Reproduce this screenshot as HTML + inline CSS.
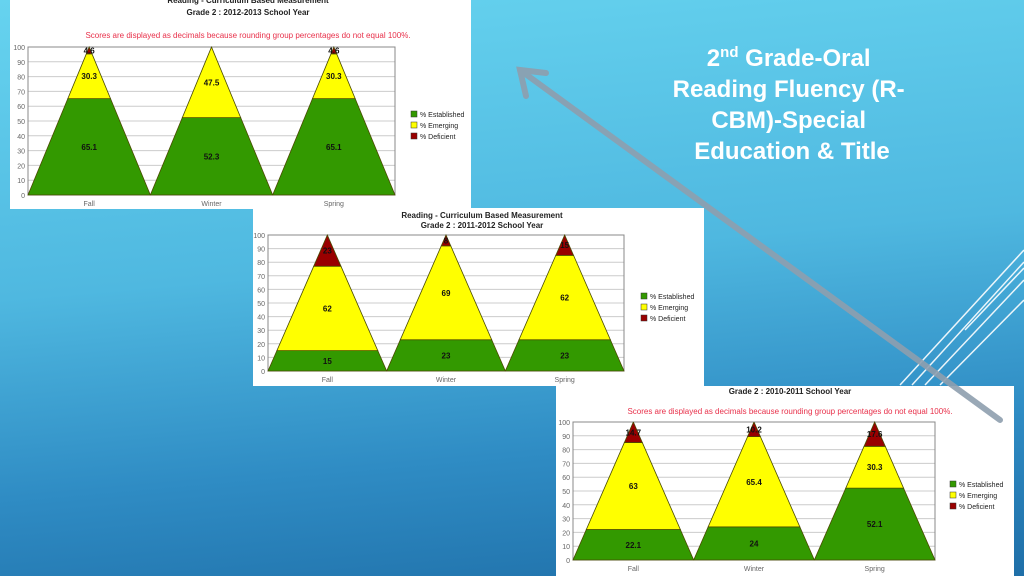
<!DOCTYPE html>
<html><head><meta charset="utf-8"><style>
html,body{margin:0;padding:0;width:1024px;height:576px;overflow:hidden}
body{background:linear-gradient(175deg,#66d3ef 0%,#4fb8e0 45%,#2f8cc4 75%,#1f6fa8 100%);position:relative;font-family:"Liberation Sans",sans-serif}
svg{position:absolute;left:0;top:0}
</style></head><body>
<svg id="s" width="1024" height="576" xmlns="http://www.w3.org/2000/svg">
<g stroke="#ffffff" stroke-width="1.5" opacity="0.9">
<line x1="900" y1="385" x2="1024" y2="250"/><line x1="912" y1="385" x2="1024" y2="262"/><line x1="925" y1="385" x2="1024" y2="280"/><line x1="940" y1="385" x2="1024" y2="300"/><line x1="965" y1="330" x2="1024" y2="268"/>
</g>
<text fill="#fff" font-weight="bold" font-size="24" text-anchor="middle" font-family="Liberation Sans,sans-serif">
<tspan x="792" y="66">2<tspan font-size="15" dy="-9">nd</tspan><tspan dy="9"> Grade-Oral</tspan></tspan>
<tspan x="792" y="97">Reading Fluency (R-</tspan>
<tspan x="792" y="128">CBM)-Special</tspan>
<tspan x="792" y="159">Education &amp; Title</tspan>
</text>
</svg>
<script>
const cats=["Fall","Winter","Spring"];
const est1=[65.1,52.3,65.1], emg1=[30.3,47.5,30.3], def1=[4.6,0.2,4.6];
const est2=[15,23,23], emg2=[62,69,62], def2=[23,8,15];
const est3=[22.1,24,52.1], emg3=[63,65.4,30.3], def3=[14.7,10.2,17.6];
const yTicks=[0,10,20,30,40,50,60,70,80,90,100];
const NS="http://www.w3.org/2000/svg", svg=document.getElementById('s');
function mk(t,a,p){const e=document.createElementNS(NS,t);for(const k in a)e.setAttribute(k,a[k]);(p||svg).appendChild(e);return e;}
const COL=["#339900","#ffff00","#990000"];
function chart(c,name,est,emg,def){
 const g=mk('g',{});
 
 
 const bg=mk('rect',{x:c.bx,y:c.by,width:c.bw,height:c.bh,fill:'#fff'},g);
 
 
 const Y=v=>c.y0-(c.y0-c.y1)*v/100;
 const cw=(c.x1-c.x0)/cats.length;
 yTicks.forEach(t=>{
  const l=mk('line',{x1:c.x0,x2:c.x1,y1:Y(t),y2:Y(t),stroke:'#cccccc','stroke-width':1},g);
  
  
  const tx=mk('text',{x:c.x0-3,y:Y(t)+3,'font-size':7,fill:'#666','text-anchor':'end'},g);
  tx.textContent=t;
  
  
 });
 mk('rect',{x:c.x0,y:c.y1,width:c.x1-c.x0,height:c.y0-c.y1,fill:'none',stroke:'#888'},g);
 cats.forEach((cat,i)=>{
  const L=c.x0+i*cw, cx=L+cw/2, hb=cw/2;
  const vals=[est[i],emg[i],def[i]];let acc=0;
  vals.forEach((v,j)=>{
   const a=acc,b=Math.min(100,acc+v);acc=b;
   const wa=hb*(1-a/100), wb=hb*(1-b/100);
   const p=mk('polygon',{points:`${cx-wa},${Y(a)} ${cx+wa},${Y(a)} ${cx+wb},${Y(b)} ${cx-wb},${Y(b)}`,fill:COL[j],stroke:'#4a4a00','stroke-width':0.8},g);
   
   
   if(v>=1){
    const lt=mk('text',{x:cx,y:Y((a+b)/2)+3,'font-size':8,'font-weight':'bold',fill:'#111','text-anchor':'middle'},g);
    lt.textContent=v;
    
    
   }
  });
  const ct=mk('text',{x:cx,y:c.y0+11,'font-size':7,fill:'#666','text-anchor':'middle'},g);
  ct.textContent=cat;
  
  
 });
 ["% Established","% Emerging","% Deficient"].forEach((s,j)=>{
  const r=mk('rect',{x:c.lx,y:c.ly+j*11-6,width:6,height:6,fill:COL[j],stroke:'#333','stroke-width':0.5},g);
  
  
  const t=mk('text',{x:c.lx+9,y:c.ly+j*11,'font-size':7,fill:'#222'},g);
  t.textContent=s;
  
  
 });
 c.titles.forEach(([s,y])=>{const t=mk('text',{x:c.tx,y:y,'font-size':8,'font-weight':'bold',fill:'#222','text-anchor':'middle'},g);t.textContent=s;
  
  });
 if(c.note){const t=mk('text',{x:c.tx,y:c.note,'font-size':8,fill:'#e8304a','text-anchor':'middle'},g);t.textContent="Scores are displayed as decimals because rounding group percentages do not equal 100%.";
  
  }
}
chart({bx:10,by:0,bw:461,bh:209,x0:28,x1:395,y0:195,y1:47,lx:411,ly:117,tx:248,titles:[["Reading - Curriculum Based Measurement",3],["Grade 2 : 2012-2013 School Year",15]],note:38},'chart-2012-2013',est1,emg1,def1);
chart({bx:253,by:208,bw:451,bh:178,x0:268,x1:624,y0:371,y1:235,lx:641,ly:299,tx:482,titles:[["Reading - Curriculum Based Measurement",218],["Grade 2 : 2011-2012 School Year",228]]},'chart-2011-2012',est2,emg2,def2);
chart({bx:556,by:386,bw:458,bh:190,x0:573,x1:935,y0:560,y1:422,lx:950,ly:487,tx:790,titles:[["Grade 2 : 2010-2011 School Year",394]],note:414},'chart-2010-2011',est3,emg3,def3);
const ar=mk('g',{stroke:'#8e9eae','stroke-width':6,'stroke-linecap':'round',fill:'none',opacity:0.9});


mk('line',{x1:1000,y1:420,x2:520,y2:70},ar);
mk('polyline',{points:'546,73 520,70 526,96'},ar);
</script>
</body></html>
